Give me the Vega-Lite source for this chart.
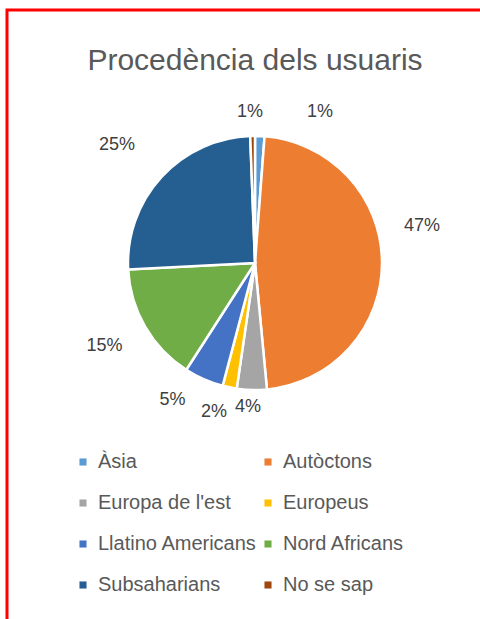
{
  "$schema": "https://vega.github.io/schema/vega-lite/v6.json",
  "width": 490,
  "height": 620,
  "autosize": "none",
  "padding": {"left": 7, "top": 10, "right": -17, "bottom": -11},
  "background": "white",
  "view": {"stroke": "#FF0000", "strokeWidth": 3, "fill": "white"},
  "config": {
    "view": {"stroke": "#FF0000", "strokeWidth": 3},
    "font": "Liberation Sans"
  },
  "title": {
    "text": "Procedència dels usuaris",
    "orient": "top",
    "anchor": "middle",
    "frame": "group",
    "baseline": "alphabetic",
    "offset": -90,
    "dx": 3,
    "font": "Liberation Sans",
    "fontSize": 30,
    "fontWeight": "normal",
    "color": "#595959"
  },
  "data": {
    "values": [
      {"ord": 1, "cat": "Àsia", "share": 0.012},
      {"ord": 2, "cat": "Autòctons", "share": 0.473},
      {"ord": 3, "cat": "Europa de l'est", "share": 0.038},
      {"ord": 4, "cat": "Europeus", "share": 0.018},
      {"ord": 5, "cat": "Llatino Americans", "share": 0.05},
      {"ord": 6, "cat": "Nord Africans", "share": 0.151},
      {"ord": 7, "cat": "Subsaharians", "share": 0.252},
      {"ord": 8, "cat": "No se sap", "share": 0.006}
    ]
  },
  "encoding": {
    "theta": {"field": "share", "type": "quantitative", "stack": true},
    "order": {"field": "ord", "type": "quantitative"}
  },
  "layer": [
    {
      "mark": {
        "type": "arc",
        "outerRadius": 127,
        "stroke": "white",
        "strokeWidth": 2.5,
        "x": {"expr": "width/2+3"},
        "y": {"expr": "height/2-57"}
      },
      "encoding": {
        "color": {
          "field": "cat",
          "type": "nominal",
          "scale": {
            "domain": ["Àsia", "Europa de l'est", "Llatino Americans", "Subsaharians", "Autòctons", "Europeus", "Nord Africans", "No se sap"],
            "range": ["#5B9BD5", "#A5A5A5", "#4472C4", "#255E91", "#ED7D31", "#FFC000", "#70AD47", "#9E480E"]
          },
          "legend": {
            "title": null,
            "orient": "none",
            "legendX": 66,
            "legendY": 442,
            "columns": 2,
            "padding": 0,
            "symbolType": "square",
            "symbolSize": 50,
            "symbolStrokeWidth": 0,
            "labelFont": "Liberation Sans",
            "labelFontSize": 20,
            "labelColor": "#595959",
            "labelOffset": 5,
            "labelLimit": 300,
            "columnPadding": 1,
            "rowPadding": 21
          }
        }
      }
    },
    {
      "mark": {
        "type": "text",
        "radius": 160,
        "x": {"expr": "width/2+3"},
        "y": {"expr": "height/2-57"},
        "font": "Liberation Sans",
        "fontSize": 18,
        "color": "#404040",
        "align": "center",
        "baseline": "middle",
        "dx": {"expr": "datum.cat == 'Àsia' ? 59 : datum.cat == 'Autòctons' ? 7 : datum.cat == \"Europa de l'est\" ? -3 : datum.cat == 'Europeus' ? -9 : datum.cat == 'Llatino Americans' ? -18 : datum.cat == 'Nord Africans' ? -12 : datum.cat == 'Subsaharians' ? -20 : -2"},
        "dy": {"expr": "datum.cat == 'Àsia' ? 9 : datum.cat == 'Autòctons' ? -35 : datum.cat == \"Europa de l'est\" ? -16 : datum.cat == 'Europeus' ? -8 : datum.cat == 'Llatino Americans' ? -9 : datum.cat == 'Nord Africans' ? 3 : datum.cat == 'Subsaharians' ? -10 : 9"}
      },
      "encoding": {
        "text": {"field": "share", "type": "quantitative", "format": ".0%"}
      }
    }
  ]
}
